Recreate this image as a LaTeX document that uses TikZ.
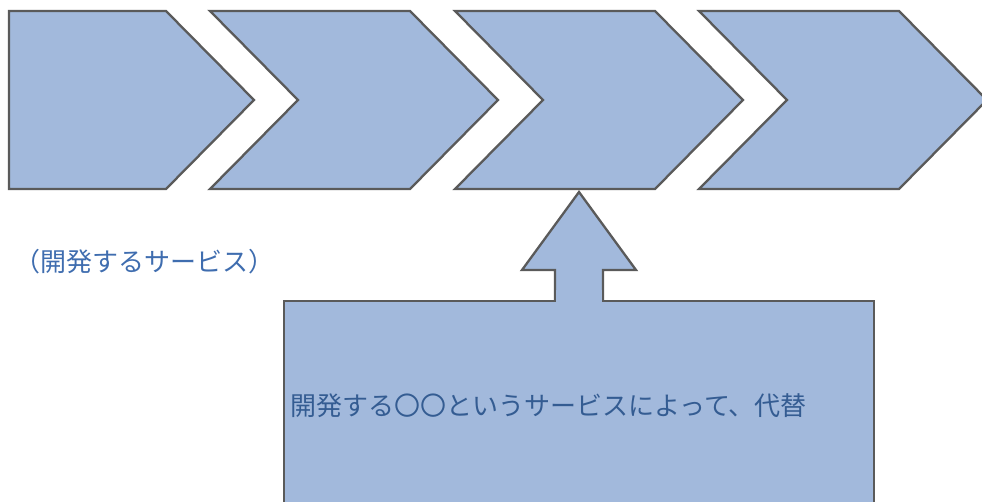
\documentclass[tikz,border=0pt]{standalone}
\usepackage{fontspec}
\newfontfamily\jp{Noto Sans CJK JP}
\definecolor{shapefill}{HTML}{A2B9DC}
\definecolor{shapeline}{HTML}{5A5A5A}
\definecolor{labelblue}{HTML}{3F6DAF}
\definecolor{innerblue}{HTML}{345C92}
\begin{document}
\begin{tikzpicture}[x=1pt,y=-1pt,
  shp/.style={fill=shapefill,draw=shapeline,line width=2.3pt,line join=miter},
  lbl/.style={inner sep=0pt,font=\jp\fontsize{26}{28}\selectfont}]
\useasboundingbox (0,0) rectangle (982,502);
\clip (0,0) rectangle (982,502);
% chevrons
\draw[shp] (9,11) -- (166,11) -- (254,100) -- (166,189) -- (9,189) -- cycle;
\draw[shp] (210,11) -- (410,11) -- (498,100) -- (410,189) -- (210,189) -- (298,100) -- cycle;
\draw[shp] (455,11) -- (655,11) -- (743,100) -- (655,189) -- (455,189) -- (543,100) -- cycle;
\draw[shp] (699,11) -- (899,11) -- (987,100) -- (899,189) -- (699,189) -- (787,100) -- cycle;
% up arrow
\draw[shp] (579,192) -- (636,270) -- (603,270) -- (603,310) -- (555,310) -- (555,270) -- (522,270) -- cycle;
% box
\draw[shp] (284,301) rectangle (874,520);
\fill[shapefill] (556.2,290) rectangle (601.8,302.2);
% labels
\node[lbl,text=labelblue,anchor=west] (svc) at (14,262) {（開発するサービス）};
\node[lbl,text=innerblue,anchor=west] (alt) at (290,406) {開発する〇〇というサービスによって、代替};
\end{tikzpicture}
\end{document}
